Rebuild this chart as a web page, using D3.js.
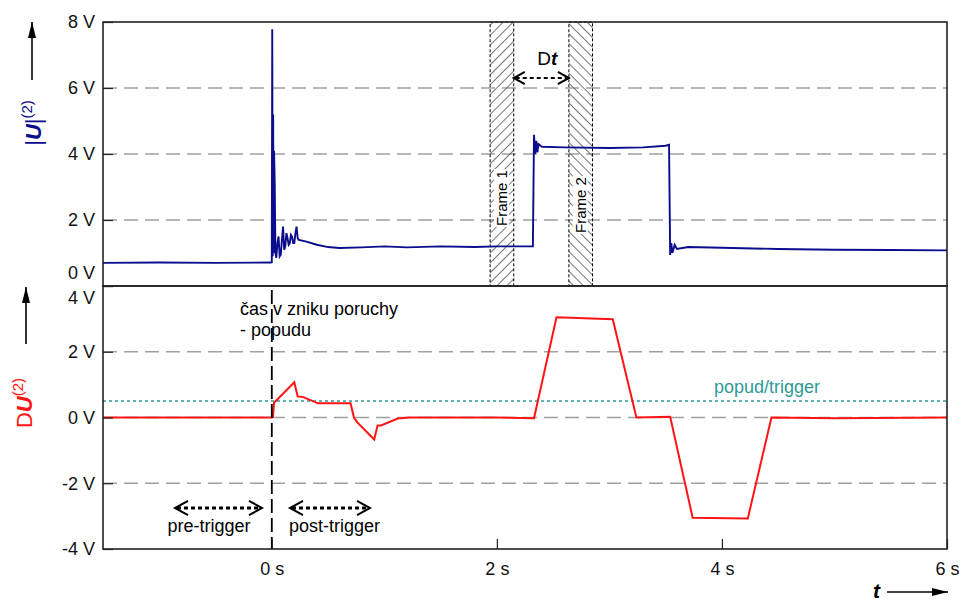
<!DOCTYPE html>
<html>
<head>
<meta charset="utf-8">
<script src="https://cdn.jsdelivr.net/npm/d3@7"></script>
<style>
  body { margin: 0; background: #fff; }
  svg { display: block; font-family: "Liberation Sans", Arial, sans-serif; }
</style>
</head>
<body>
<div id="chart"></div>
<script>
// |U|(2) trace, [time s, volts]
var absU = [
  [-1.5, 0.70], [-1.0, 0.71], [-0.5, 0.70], [-0.01, 0.71], [0.0, 0.72],
  [0.004, 7.78], [0.008, 0.9], [0.012, 5.2], [0.016, 1.0], [0.02, 4.1],
  [0.026, 3.1], [0.032, 1.0], [0.04, 0.85], [0.05, 1.3], [0.06, 1.5],
  [0.07, 0.9], [0.08, 0.95], [0.09, 1.4], [0.10, 1.8], [0.11, 1.1],
  [0.12, 1.2], [0.13, 1.6], [0.14, 1.45], [0.15, 1.25], [0.16, 1.3],
  [0.17, 1.55], [0.18, 1.5], [0.19, 1.3], [0.20, 1.3], [0.21, 1.6],
  [0.22, 1.8], [0.23, 1.45], [0.24, 1.4], [0.30, 1.35], [0.40, 1.25],
  [0.50, 1.18], [0.60, 1.15], [0.80, 1.17], [1.0, 1.20], [1.2, 1.17],
  [1.5, 1.20], [1.8, 1.18], [2.0, 1.20], [2.32, 1.20], [2.33, 4.58],
  [2.34, 4.0], [2.35, 4.4], [2.36, 4.05], [2.37, 4.3], [2.40, 4.22],
  [2.6, 4.20], [3.0, 4.18], [3.3, 4.20], [3.50, 4.25], [3.53, 4.28],
  [3.54, 0.94], [3.55, 1.3], [3.56, 1.0], [3.58, 1.25], [3.60, 1.12],
  [3.7, 1.18], [4.0, 1.16], [4.5, 1.12], [5.0, 1.10], [5.5, 1.09], [6.0, 1.08]
];

// DU(2) trace, [time s, volts]
var deltaU = [
  [-1.5, 0], [0.0, 0], [0.01, 0.02], [0.02, 0.45], [0.20, 1.07], [0.23, 0.64],
  [0.28, 0.62], [0.41, 0.43], [0.70, 0.43], [0.73, 0.0], [0.76, -0.15],
  [0.91, -0.67], [0.94, -0.24], [0.97, -0.24], [1.12, -0.03], [1.22, 0.0],
  [1.6, 0.0], [2.0, 0.0], [2.33, -0.02], [2.53, 3.05], [3.03, 2.99],
  [3.24, 0.0], [3.54, 0.02], [3.74, -3.05], [4.23, -3.07], [4.44, 0.0],
  [5.0, -0.02], [6.0, 0.0]
];

var timeTicks = [0, 2, 4, 6];
var topTicks = [0, 2, 4, 6, 8];
var bottomTicks = [-4, -2, 0, 2, 4];
var topGrid = [2, 4, 6];
var bottomGrid = [-2, 0, 2];
var triggerLevel = 0.5;

// measurement windows
var frameNames = ["Frame 1", "Frame 2"];
var frameStart = [1.94, 2.64];
var frameEnd = [2.15, 2.85];

var width = 961,
  height = 606,
  left = 103,
  right = 947,
  blue = "#0c0c8e",
  red = "#ff1414",
  teal = "#2f9a96",
  gridColor = "#a0a0a0";

var x = d3.scaleLinear().domain([-1.5, 6]).range([left, right]);
var yTop = d3.scaleLinear().domain([0, 8]).range([286, 22]);
var yBot = d3.scaleLinear().domain([-4, 4]).range([549, 286]);

var svg = d3.select("#chart").append("svg")
    .attr("width", width)
    .attr("height", height);

var defs = svg.append("defs");
[["hatch1", 45], ["hatch2", -45]].forEach(function (h) {
  defs.append("pattern")
      .attr("id", h[0])
      .attr("patternUnits", "userSpaceOnUse")
      .attr("width", 7)
      .attr("height", 7)
      .attr("patternTransform", "rotate(" + h[1] + ")")
    .append("line")
      .attr("x1", 0).attr("y1", 0).attr("x2", 0).attr("y2", 7)
      .attr("stroke", "#5e5e5e")
      .attr("stroke-width", 1.7);
});

function arrowDef(id, size) {
  defs.append("marker")
      .attr("id", id)
      .attr("viewBox", "0 0 10 10")
      .attr("refX", 10).attr("refY", 5)
      .attr("markerWidth", size).attr("markerHeight", size)
      .attr("markerUnits", "userSpaceOnUse")
      .attr("orient", "auto")
    .append("path")
      .attr("d", "M0,2.5L10,5L0,7.5Z")
      .attr("fill", "#000");
}
arrowDef("solidArrow", 16);

// gridlines
function grid(values, y) {
  svg.append("g").selectAll("line")
    .data(values)
    .enter().append("line")
      .attr("x1", left).attr("x2", right)
      .attr("y1", y).attr("y2", y)
      .attr("stroke", gridColor)
      .attr("stroke-width", 1.4)
      .attr("stroke-dasharray", "14,7");
}
grid(topGrid, function (d) { return yTop(d); });
grid(bottomGrid, function (d) { return yBot(d); });

// trigger threshold
svg.append("line")
    .attr("x1", left).attr("x2", right)
    .attr("y1", yBot(triggerLevel)).attr("y2", yBot(triggerLevel))
    .attr("stroke", teal)
    .attr("stroke-width", 1.4)
    .attr("stroke-dasharray", "3,3");
svg.append("text")
    .attr("x", x(4.4))
    .attr("y", yBot(triggerLevel) - 8)
    .attr("text-anchor", "middle")
    .attr("font-size", 18)
    .attr("fill", teal)
    .text("popud/trigger");

// frames
frameNames.forEach(function (name, i) {
  var g = svg.append("g");
  var x0 = x(frameStart[i]), x1 = x(frameEnd[i]);
  g.append("rect")
      .attr("x", x0).attr("y", yTop(8))
      .attr("width", x1 - x0).attr("height", yTop(0) - yTop(8))
      .attr("fill", "url(#hatch" + (i + 1) + ")")
      .attr("stroke", "#000")
      .attr("stroke-width", 1)
      .attr("stroke-dasharray", "3,2");
  var cx = (x0 + x1) / 2, cy = i === 0 ? 198 : 205;
  var t = g.append("text")
      .attr("transform", "translate(" + (cx + 5) + "," + cy + ") rotate(-90)")
      .attr("text-anchor", "middle")
      .attr("font-size", 15)
      .text(name);
  var b = t.node().getBBox();
  g.insert("rect", "text")
      .attr("transform", "translate(" + (cx + 5) + "," + cy + ") rotate(-90)")
      .attr("x", b.x - 1).attr("y", b.y + 1)
      .attr("width", b.width + 2).attr("height", b.height - 2)
      .attr("fill", "#fff");
});

// Dt arrow between frames
function dottedArrow(xa, xb, y, w, head) {
  var g = svg.append("g").attr("stroke", "#000").attr("fill", "none");
  g.append("line")
      .attr("x1", xa + 2).attr("x2", xb - 2)
      .attr("y1", y).attr("y2", y)
      .attr("stroke-width", w)
      .attr("stroke-dasharray", "4,3");
  g.append("path")
      .attr("d", "M" + (xa + head) + "," + (y - head * 0.55) + "L" + xa + "," + y +
        "L" + (xa + head) + "," + (y + head * 0.55))
      .attr("stroke-width", 2);
  g.append("path")
      .attr("d", "M" + (xb - head) + "," + (y - head * 0.55) + "L" + xb + "," + y +
        "L" + (xb - head) + "," + (y + head * 0.55))
      .attr("stroke-width", 2);
}
dottedArrow(x(frameEnd[0]), x(frameStart[1]), 78, 2, 11);
var dt = svg.append("text")
    .attr("x", (x(frameEnd[0]) + x(frameStart[1])) / 2 + 6)
    .attr("y", 65)
    .attr("text-anchor", "middle")
    .attr("font-size", 19);
dt.append("tspan").text("D");
dt.append("tspan").attr("font-style", "italic").attr("font-weight", "bold").text("t");

// traces
var lineTop = d3.line()
    .x(function (d) { return x(d[0]); })
    .y(function (d) { return yTop(d[1]); });
var lineBot = d3.line()
    .x(function (d) { return x(d[0]); })
    .y(function (d) { return yBot(d[1]); });

svg.append("path")
    .datum(absU)
    .attr("d", lineTop)
    .attr("fill", "none")
    .attr("stroke", blue)
    .attr("stroke-width", 1.9);

svg.append("path")
    .datum(deltaU)
    .attr("d", lineBot)
    .attr("fill", "none")
    .attr("stroke", red)
    .attr("stroke-width", 2);

// fault instant marker
svg.append("line")
    .attr("x1", x(0)).attr("x2", x(0))
    .attr("y1", 290).attr("y2", yBot(-4))
    .attr("stroke", "#000")
    .attr("stroke-width", 1.8)
    .attr("stroke-dasharray", "14,5");

svg.append("text")
    .attr("x", 240).attr("y", 315)
    .attr("font-size", 18)
    .text("čas v zniku poruchy");
svg.append("text")
    .attr("x", 240).attr("y", 336)
    .attr("font-size", 18)
    .text("- popudu");

dottedArrow(175, 262, 508, 3, 13);
dottedArrow(290, 370, 508, 3, 13);
svg.append("text")
    .attr("x", 209).attr("y", 532)
    .attr("text-anchor", "middle")
    .attr("font-size", 18)
    .text("pre-trigger");
svg.append("text")
    .attr("x", 289).attr("y", 532)
    .attr("font-size", 18)
    .text("post-trigger");

// axes
function styleAxis(g) {
  g.select(".domain").remove();
  g.selectAll(".tick line").attr("stroke", "#222").attr("stroke-width", 1.2);
  g.selectAll("text").attr("font-size", 18).attr("fill", "#111")
    .attr("font-family", "Liberation Sans, Arial, sans-serif");
}

var axTop = svg.append("g")
    .attr("transform", "translate(" + left + ",0)")
    .call(d3.axisLeft(yTop).tickValues(topTicks).tickSize(-10).tickPadding(8)
      .tickFormat(function (d) { return d + " V"; }))
    .call(styleAxis);
axTop.selectAll(".tick").filter(function (d) { return d === 0; })
    .select("text").attr("dy", "-0.4em");

var axBot = svg.append("g")
    .attr("transform", "translate(" + left + ",0)")
    .call(d3.axisLeft(yBot).tickValues(bottomTicks).tickSize(-10).tickPadding(8)
      .tickFormat(function (d) { return d + " V"; }))
    .call(styleAxis);
axBot.selectAll(".tick").filter(function (d) { return d === 4; })
    .select("text").attr("dy", "0.95em");

svg.append("g")
    .attr("transform", "translate(0," + yBot(-4) + ")")
    .call(d3.axisBottom(x).tickValues(timeTicks).tickSize(-10).tickPadding(13)
      .tickFormat(function (d) { return d + " s"; }))
    .call(styleAxis);

// panel frames
[[yTop(8), yTop(0)], [yBot(4), yBot(-4)]].forEach(function (p) {
  svg.append("rect")
      .attr("x", left).attr("y", p[0])
      .attr("width", right - left).attr("height", p[1] - p[0])
      .attr("fill", "none")
      .attr("stroke", "#222")
      .attr("stroke-width", 1.6);
});

// axis titles
svg.append("line")
    .attr("x1", 32).attr("x2", 32).attr("y1", 80).attr("y2", 22)
    .attr("stroke", "#000").attr("stroke-width", 1.6)
    .attr("marker-end", "url(#solidArrow)");
var tTop = svg.append("text")
    .attr("transform", "translate(41,123) rotate(-90)")
    .attr("text-anchor", "middle")
    .attr("font-size", 22)
    .attr("fill", blue);
tTop.append("tspan").text("|");
tTop.append("tspan").attr("font-weight", "bold").attr("font-style", "italic").text("U");
tTop.append("tspan").text("|");
tTop.append("tspan").attr("font-size", 15).attr("dy", -9).text("(2)");

svg.append("line")
    .attr("x1", 26).attr("x2", 26).attr("y1", 344).attr("y2", 287)
    .attr("stroke", "#000").attr("stroke-width", 1.6)
    .attr("marker-end", "url(#solidArrow)");
var tBot = svg.append("text")
    .attr("transform", "translate(32,403) rotate(-90)")
    .attr("text-anchor", "middle")
    .attr("font-size", 22)
    .attr("fill", red);
tBot.append("tspan").text("D");
tBot.append("tspan").attr("font-weight", "bold").attr("font-style", "italic").text("U");
tBot.append("tspan").attr("font-size", 15).attr("dy", -9).text("(2)");

svg.append("text")
    .attr("x", 873).attr("y", 598)
    .attr("font-size", 21)
    .attr("font-weight", "bold")
    .attr("font-style", "italic")
    .text("t");
svg.append("line")
    .attr("x1", 887).attr("x2", 948).attr("y1", 592).attr("y2", 592)
    .attr("stroke", "#000").attr("stroke-width", 1.6)
    .attr("marker-end", "url(#solidArrow)");
</script>
</body>
</html>
